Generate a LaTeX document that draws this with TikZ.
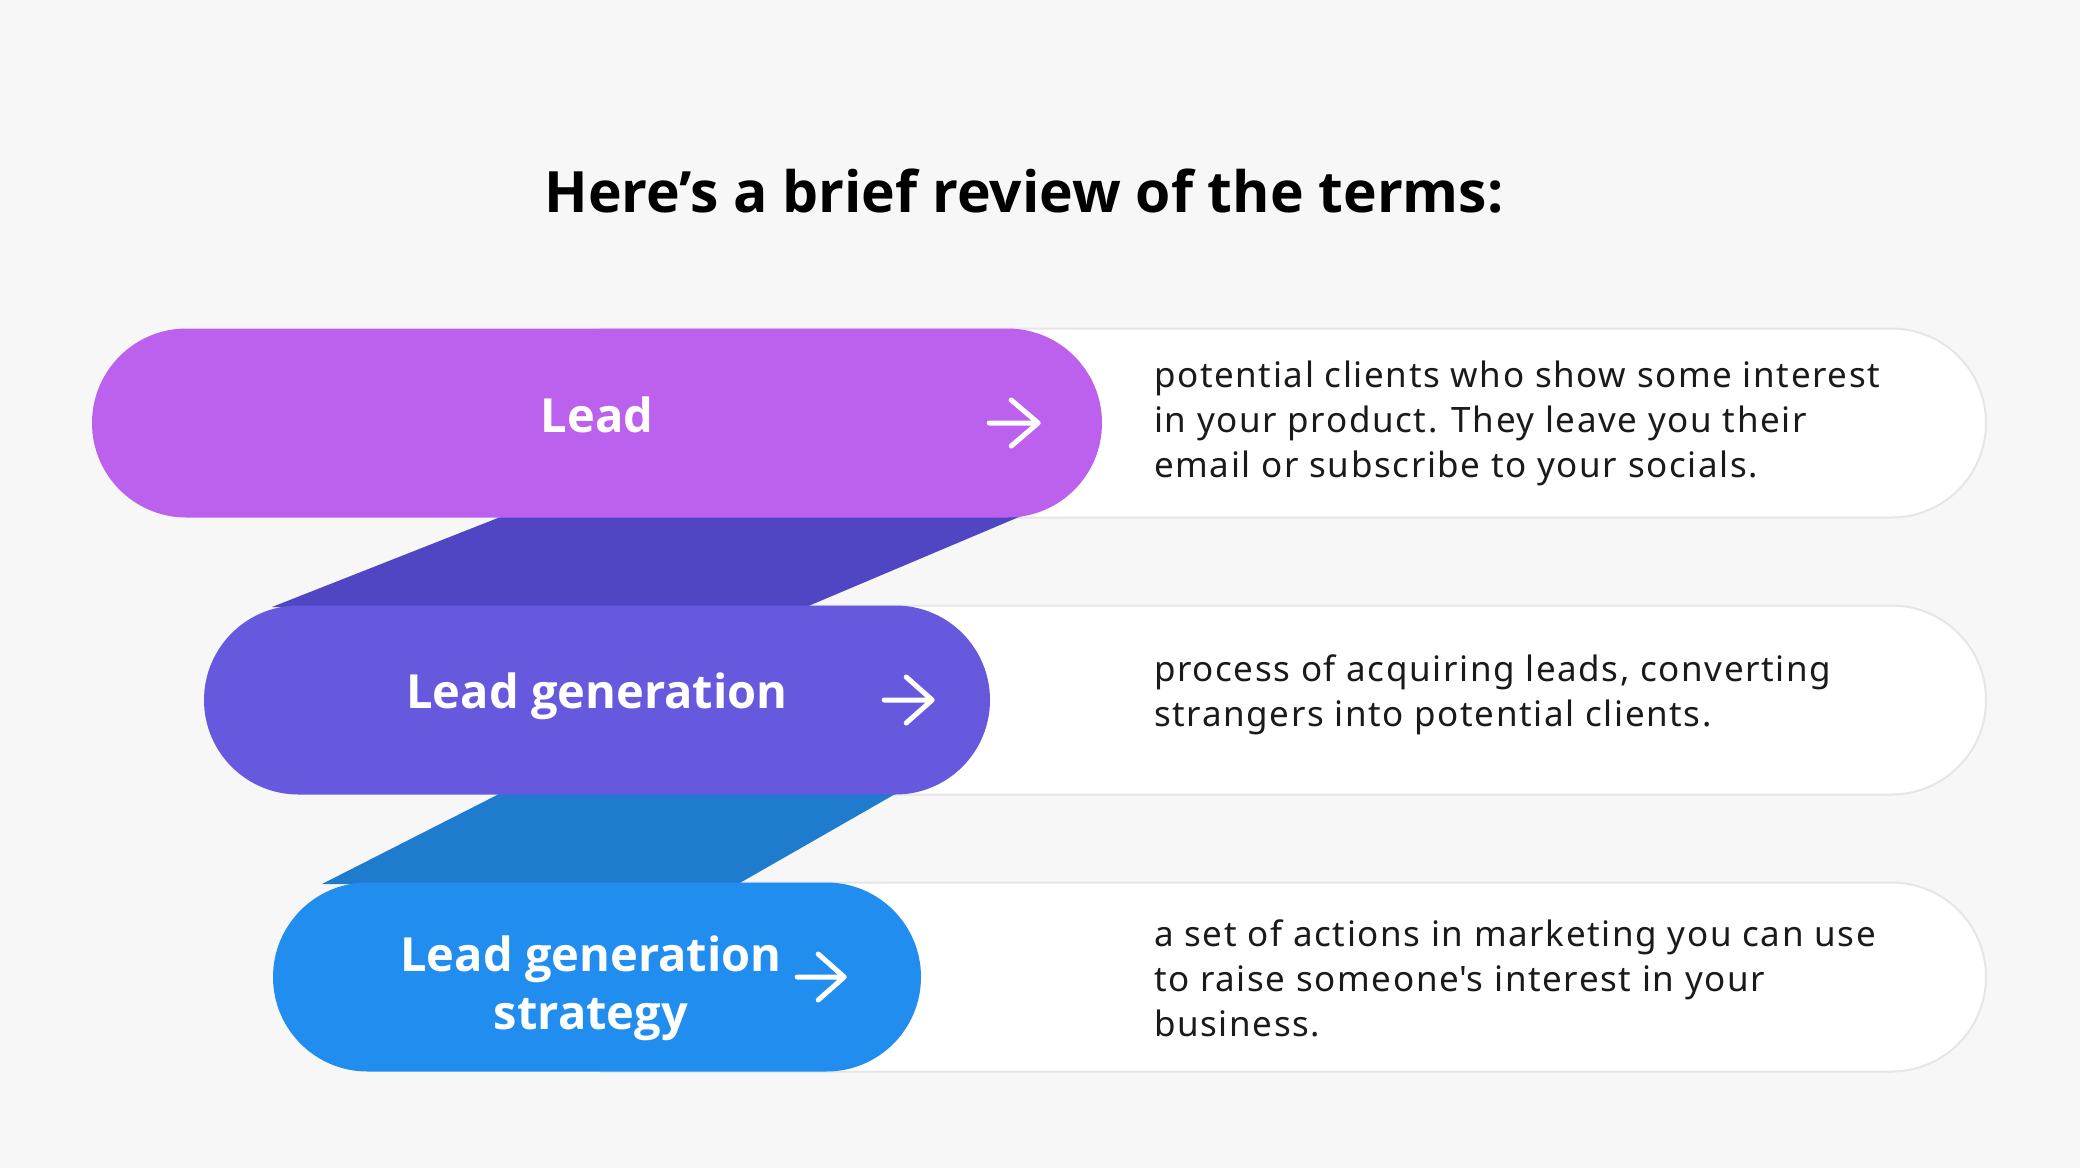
\documentclass[tikz,border=0pt]{standalone}
\usepackage{fontspec}
\setmainfont{Noto Sans}
\newfontfamily\headfont{Open Sans}
\usetikzlibrary{shapes.misc}
\definecolor{bgcol}{HTML}{F7F7F7}
\definecolor{cLead}{HTML}{BC61EE}
\definecolor{cGen}{HTML}{6659DE}
\definecolor{cStrat}{HTML}{218EEF}
\definecolor{bandA}{HTML}{5046C4}
\definecolor{bandB}{HTML}{1F7BCD}
\definecolor{pillborder}{HTML}{E6E6E6}
\definecolor{txt}{HTML}{1A1A1A}
\tikzset{
  pill/.style={rounded rectangle, inner sep=0pt, minimum height=189pt},
  pilltext/.style={text=white, inner sep=0pt, align=center,
    font=\headfont\bfseries\fontsize{47}{58}\selectfont},
  whitepill/.style={rounded rectangle, rounded rectangle left arc=none, inner sep=0pt,
    minimum height=189pt, minimum width=1386pt, fill=white, draw=pillborder, line width=2pt},
  desc/.style={anchor=west, align=left, text=txt, inner sep=0pt,
    font=\addfontfeatures{LetterSpace=4.6}\fontsize{35}{45}\selectfont},
  arrowicon/.style={draw=white, line width=5pt, line cap=round, line join=round}
}
\begin{document}
\begin{tikzpicture}[x=1pt,y=-1pt]
\fill[bgcol] (0,0) rectangle (2080,1168);
\useasboundingbox (0,0) rectangle (2080,1168);

\node[font=\headfont\bfseries\fontsize{57}{64}\selectfont, text=black, anchor=base] (title) at (1024,212) {Here’s a brief review of the terms:};

% white description pills
\node[whitepill] (w1) at (1293,423) {};
\node[whitepill] (w2) at (1293,700) {};
\node[whitepill] (w3) at (1293,977) {};

% connecting bands
\fill[bandA] (508,514) -- (1026,514) -- (806,607) -- (272,607) -- cycle;
\fill[bandB] (501,793) -- (897,793) -- (738,884) -- (322,884) -- cycle;

% coloured pills
\node[pill, fill=cLead, minimum width=1010pt] (lead) at (597,423) {};
\node[pill, fill=cGen, minimum width=786pt] (gen) at (597,700) {};
\node[pill, fill=cStrat, minimum width=648pt] (strat) at (597,977) {};

% labels
\node[pilltext, anchor=base] (t1) at (597,432) {Lead};
\node[pilltext, anchor=base] (t2) at (597,708) {Lead generation};
\node[pilltext, anchor=north] (t3) at (591,936) {Lead generation\\strategy};

% arrows
\draw[arrowicon] ([xshift=-113pt]lead.east) -- ([xshift=-64pt]lead.east)
  ([xshift=-91pt,yshift=23pt]lead.east) -- ([xshift=-64pt]lead.east) -- ([xshift=-91pt,yshift=-23pt]lead.east);
\draw[arrowicon] ([xshift=-106pt]gen.east) -- ([xshift=-58pt]gen.east)
  ([xshift=-84pt,yshift=23pt]gen.east) -- ([xshift=-58pt]gen.east) -- ([xshift=-84pt,yshift=-23pt]gen.east);
\draw[arrowicon] ([xshift=-124pt]strat.east) -- ([xshift=-77pt]strat.east)
  ([xshift=-103pt,yshift=23pt]strat.east) -- ([xshift=-77pt]strat.east) -- ([xshift=-103pt,yshift=-23pt]strat.east);

% descriptions
\node[desc] (d1) at (1154,423) {potential clients who show some interest\\in your product. They leave you their\\email or subscribe to your socials.};
\node[desc] (d2) at (1154,695) {process of acquiring leads, converting\\strangers into potential clients.};
\node[desc] (d3) at (1154,978) {a set of actions in marketing you can use\\to raise someone\textquotesingle s interest in your\\business.};
\end{tikzpicture}
\end{document}
